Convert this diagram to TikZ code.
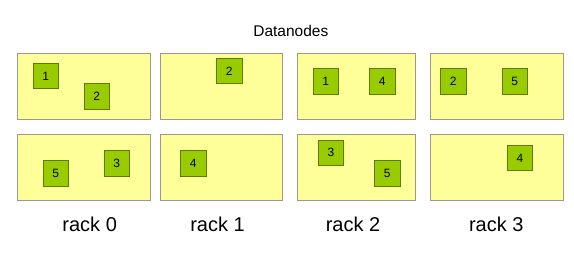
\documentclass[tikz,border=0pt]{standalone}
\usepackage{fontspec}
\setmainfont{Liberation Sans}
\definecolor{rackfill}{HTML}{FFFF99}
\definecolor{rackline}{HTML}{9A9A8A}
\definecolor{blkfill}{HTML}{99CC00}
\definecolor{blkline}{HTML}{5E7A00}
\begin{document}
\begin{tikzpicture}[x=1pt,y=-1pt,
  rackbox/.style={draw=rackline,fill=rackfill,line width=1pt},
  blk/.style={draw=blkline,fill=blkfill,line width=0.9pt,minimum size=25.5pt,inner sep=0pt,font=\fontsize{12}{14}\selectfont},
  racklabel/.style={font=\fontsize{20}{24}\selectfont,inner sep=0pt},
  titlelabel/.style={font=\fontsize{15.5}{18}\selectfont,inner sep=0pt}]
\useasboundingbox (0,0) rectangle (574,261);
\node[titlelabel] (title) at (290.8,30.5) {Datanodes};
% rack boxes
\draw[rackbox] (17.3,53.3) rectangle (150,119.3);
\draw[rackbox] (160,53.3) rectangle (282.7,119.3);
\draw[rackbox] (297.3,53.3) rectangle (415,119.3);
\draw[rackbox] (430.7,53.3) rectangle (563.3,119.3);
\draw[rackbox] (17.3,135) rectangle (150,201);
\draw[rackbox] (160,135) rectangle (282.7,201);
\draw[rackbox] (297.3,135) rectangle (415,201);
\draw[rackbox] (430.7,135) rectangle (563.3,201);
% blocks top row
\node[blk] (a1) at (45.8,76.2) {1};
\node[blk] (a2) at (96.7,96.7) {2};
\node[blk] (b2) at (229.3,71.2) {2};
\node[blk] (c1) at (325.8,81.3) {1};
\node[blk] (c4) at (382.2,81.3) {4};
\node[blk] (d2) at (453.2,81.3) {2};
\node[blk] (d5) at (514.8,81.3) {5};
% blocks bottom row
\node[blk] (e5) at (55.7,173.3) {5};
\node[blk] (e3) at (116.8,163.3) {3};
\node[blk] (f4) at (193.3,163.3) {4};
\node[blk] (g3) at (331,152.8) {3};
\node[blk] (g5) at (387.2,173.3) {5};
\node[blk] (h4) at (520,158) {4};
% labels
\node[racklabel] (r0) at (89.7,224.5) {rack 0};
\node[racklabel] (r1) at (217.5,224.5) {rack 1};
\node[racklabel] (r2) at (353,224.5) {rack 2};
\node[racklabel] (r3) at (496.3,224.5) {rack 3};
\end{tikzpicture}
\end{document}
